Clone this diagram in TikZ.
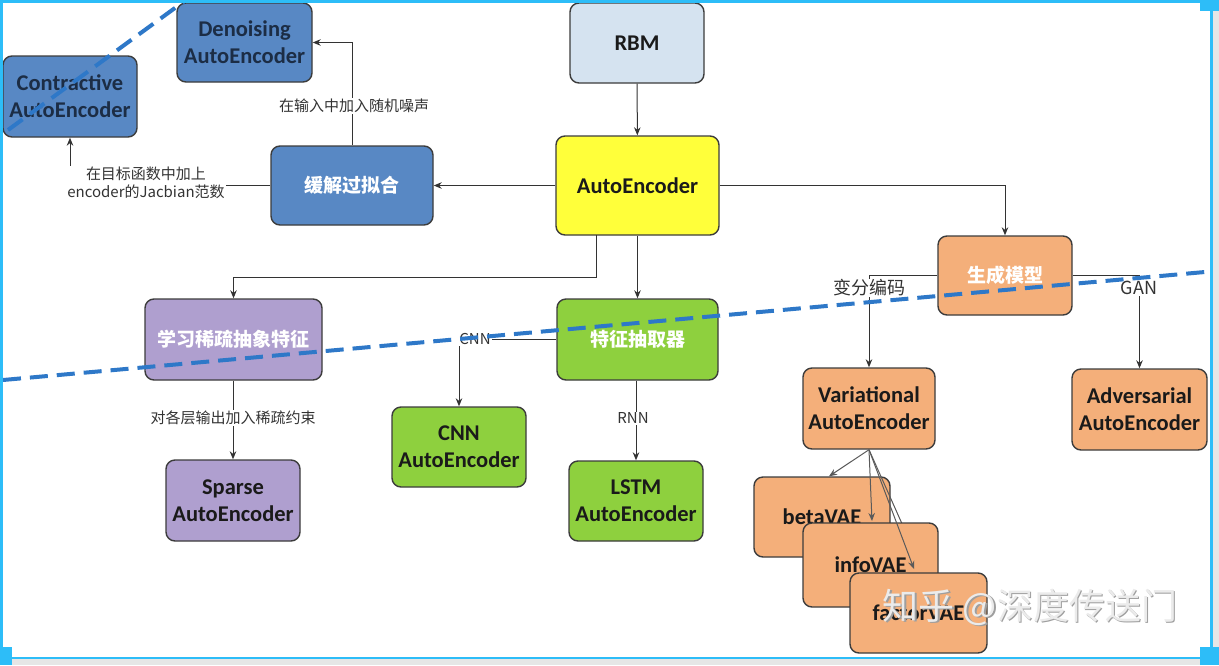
\documentclass[tikz,border=0pt]{standalone}
\usepackage{fontspec}
\setmainfont{Carlito}
\newfontfamily\cjk{Noto Sans CJK SC}
\usetikzlibrary{arrows.meta}
\definecolor{bluebox}{HTML}{5888C4}
\definecolor{rbmbox}{HTML}{D5E3F0}
\definecolor{yelbox}{HTML}{FFFF3A}
\definecolor{purbox}{HTML}{AF9FCF}
\definecolor{grnbox}{HTML}{8ED03E}
\definecolor{orgbox}{HTML}{F4AF7A}
\definecolor{boxline}{HTML}{3C3C3C}
\definecolor{navytext}{HTML}{1C2D45}
\definecolor{darktext}{HTML}{1A1A1A}
\definecolor{arrline}{HTML}{333333}
\definecolor{vaeline}{HTML}{5A5A5A}
\definecolor{lbltext}{HTML}{333333}
\definecolor{dashblue}{HTML}{2E78C8}
\definecolor{framecyan}{HTML}{2DBDF8}
\definecolor{framegray}{HTML}{E6E6E6}
\begin{document}
\begin{tikzpicture}[x=1pt,y=-1pt,
  box/.style={draw=boxline, line width=1.4pt, rounded corners=9pt, align=center, inner sep=0pt,
    font=\fontsize{22.5}{27}\selectfont\bfseries, text=darktext},
  cjkbox/.style={box, font=\cjk\fontsize{19}{23}\selectfont\bfseries, text=white},
  arr/.style={draw=arrline, line width=1pt, -{Stealth[length=8pt,width=6.5pt]}},
  vaearr/.style={draw=vaeline, line width=1pt, -{Stealth[length=8pt,width=6.5pt]}},
  lbl/.style={font=\cjk\fontsize{15}{18}\selectfont, text=lbltext, fill=white, inner sep=1pt, align=center},
  biglbl/.style={lbl, font=\cjk\fontsize{18}{22}\selectfont},
  dashln/.style={draw=dashblue, line width=4pt, dash pattern=on 18pt off 9pt}
]
\useasboundingbox (0,0) rectangle (1219,665);
\fill[white] (0,0) rectangle (1219,665);

% nodes
\node[box, fill=bluebox, text=navytext, minimum width=134pt, minimum height=81pt] (contr) at (70,96.5) {Contractive\\AutoEncoder};
\node[box, fill=bluebox, text=navytext, minimum width=135pt, minimum height=79pt] (deno) at (244.5,42.5) {Denoising\\AutoEncoder};
\node[box, fill=rbmbox, minimum width=134pt, minimum height=80pt] (rbm) at (637,43) {RBM};
\node[box, fill=yelbox, minimum width=163pt, minimum height=99pt] (ae) at (637.5,185.5) {AutoEncoder};
\node[cjkbox, fill=bluebox, minimum width=162pt, minimum height=79pt] (huan) at (352,185.5) {缓解过拟合};
\node[cjkbox, fill=orgbox, minimum width=134pt, minimum height=79pt] (gen) at (1005,275.5) {生成模型};
\node[cjkbox, fill=purbox, minimum width=177pt, minimum height=81pt] (xue) at (233.5,339.5) {学习稀疏抽象特征};
\node[cjkbox, fill=grnbox, minimum width=161pt, minimum height=81pt] (tezh) at (637.5,339.5) {特征抽取器};
\node[box, fill=grnbox, minimum width=134pt, minimum height=80pt] (cnn) at (459,447) {CNN\\AutoEncoder};
\node[box, fill=grnbox, minimum width=134pt, minimum height=80pt] (lstm) at (636,501) {LSTM\\AutoEncoder};
\node[box, fill=purbox, minimum width=134pt, minimum height=81pt] (sparse) at (233,500.5) {Sparse\\AutoEncoder};
\node[box, fill=orgbox, minimum width=132pt, minimum height=81pt] (vae) at (869,408.5) {Variational\\AutoEncoder};
\node[box, fill=orgbox, minimum width=135pt, minimum height=81pt] (aae) at (1139.5,409.5) {Adversarial\\AutoEncoder};

% main connectors
\draw[arr] (rbm) -- (ae);
\draw[arr] (ae.west) -- (huan.east);
\draw[arr] (huan.north) |- (deno.east);
\node[lbl] (l1) at (354,106) {在输入中加入随机噪声};
\draw[arr] (huan.west) -| (contr.south);
\node[lbl] (l2) at (146,183) {在目标函数中加上\\encoder的Jacbian范数};
\draw[arr] (ae.east) -| (gen.north);
\coordinate (aeleft) at (596,235);
\draw[arr] (aeleft) -- (596,277) -| (xue.north);
\draw[arr] (ae.south) -- (tezh.north);
\draw[arr] (tezh.west) -| (cnn.north);
\node[lbl] (l3) at (475,339) {CNN};
\draw[arr] (lstm.north |- tezh.south) -- (lstm.north);
\node[lbl] (l4) at (633,418) {RNN};
\draw[arr] (sparse.north |- xue.south) -- (sparse.north);
\node[lbl] (l5) at (233,418) {对各层输出加入稀疏约束};
\draw[arr] (gen.west) -| (vae.north);
\node[biglbl] (l6) at (869,288) {变分编码};
\draw[arr] (gen.east) -| (aae.north);
\node[biglbl] (l7) at (1139,288) {GAN};

% VAE family
\node[box, fill=orgbox, minimum width=136pt, minimum height=80pt] (beta) at (822,517) {betaVAE};
\coordinate (tfac) at (936,600);
\draw[vaearr] (vae.south) -- (tfac);
\node[box, fill=orgbox, minimum width=135pt, minimum height=84pt] (info) at (870.5,565) {infoVAE};
\coordinate (tinfo) at (914,569);
\draw[vaearr] (vae.south) -- (tinfo);
\node[box, fill=orgbox, minimum width=137pt, minimum height=80pt] (factor) at (918.5,613) {factorVAE};
\coordinate (tbeta) at (872,521);
\draw[vaearr] (vae.south) -- ([xshift=7pt]beta.north);
\draw[vaearr] (vae.south) -- (tbeta);

% dashed annotation lines
\draw[dashln] (8,130) -- (190,-3);
\draw[dashln] (3,380) -- (1216,271);

% watermark
\node[font=\cjk\fontsize{36}{40}\selectfont, text=black!38] (wmshadow) at (1031.5,608.5) {知乎 @深度传送门};
\node[font=\cjk\fontsize{36}{40}\selectfont, text=white!92!black] (wm) at (1030,607) {知乎 @深度传送门};

% frame
\fill[framegray] (0,659) rectangle (1219,665);
\fill[framegray] (1213,0) rectangle (1219,665);
\fill[framecyan] (0,0) rectangle (1212,2.5);
\fill[framecyan] (0,0) rectangle (2.5,659);
\fill[framecyan] (0,656.5) rectangle (1212.5,659);
\fill[framecyan] (1210,0) rectangle (1212.5,659);
\fill[framecyan] (1200,0) rectangle (1219,11);
\fill[framecyan] (1200,647) rectangle (1219,665);
\fill[framecyan] (0,647) rectangle (12,665);
\end{tikzpicture}
\end{document}
